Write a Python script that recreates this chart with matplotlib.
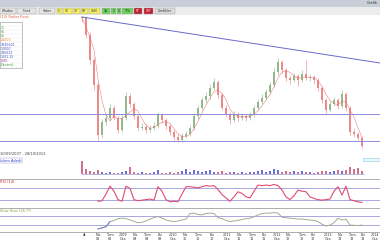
import numpy as np
import pandas as pd
import matplotlib
matplotlib.use("Agg")
import matplotlib.pyplot as plt
from matplotlib.patches import Rectangle

W, H = 380, 240

# price candles (weekly), arbitrary price units
closes = [132, 115, 90, 65, 15, 28, 32, 42, 32, 20, 32, 54, 46, 34, 22, 23, 20, 22, 24, 35,
          30, 24, 18, 13, 10, 14, 16, 22, 34, 42, 50, 54, 62, 68, 55, 42, 36, 30, 36, 32,
          34, 32, 35, 42, 48, 52, 58, 65, 78, 88, 80, 72, 70, 74, 70, 76, 72, 73, 70, 62,
          50, 40, 46, 50, 44, 56, 42, 18, 16, 12, 4]
highs = [134, 134, 118, 93, 68, 31, 36, 46, 45, 34, 35, 58, 57, 48, 36, 27, 26, 25, 28, 38,
         37, 32, 26, 20, 16, 17, 19, 25, 37, 45, 53, 58, 66, 72, 70, 57, 45, 38, 39, 38,
         37, 36, 38, 45, 51, 56, 61, 68, 82, 92, 90, 82, 75, 77, 76, 80, 90, 76, 75, 72,
         64, 52, 49, 53, 52, 60, 58, 44, 22, 18, 14]
lows = [128, 112, 86, 60, 10, 12, 25, 29, 30, 17, 18, 30, 43, 31, 19, 20, 17, 18, 20, 22,
        27, 21, 15, 10, 8, 8, 12, 14, 20, 31, 40, 47, 51, 60, 52, 40, 33, 26, 28, 29,
        30, 29, 30, 33, 40, 46, 50, 56, 63, 75, 77, 69, 66, 68, 64, 68, 70, 69, 66, 59,
        47, 37, 38, 44, 41, 42, 39, 15, 13, 9, 2]
first_open = 133

volumes = [13, 5, 3, 2, 4, 2, 1, 2, 1, 1, 2, 3, 7, 2, 1, 2, 1, 1, 2, 4, 1, 1, 2, 1, 2,
           3, 5, 2, 4, 3, 2, 3, 4, 2, 2, 3, 1, 2, 2, 1, 2, 1, 2, 2, 3, 4, 2, 3, 5, 4,
           2, 3, 2, 3, 2, 3, 2, 2, 1, 2, 3, 3, 2, 3, 4, 3, 4, 7, 5, 6, 3]

rsi = [np.nan] * 4 + [24, 26, 50, 78, 60, 30, 24, 78, 70, 30, 26, 28, 30, 32, 28, 76, 60, 30,
                      22, 24, 22, 50, 76, 76, 74, 72, 76, 80, 78, 80, 66, 48, 36, 24, 40, 58,
                      52, 40, 36, 60, 82, 80, 82, 80, 84, 80, 64, 40, 30, 44, 64, 60, 58, 40,
                      34, 30, 28, 30, 32, 60, 76, 46, 78, 30, 26, 22, 20]
stoch = [np.nan] * 4 + [13, 18, 23, 45, 50, 58, 60, 58, 52, 46, 40, 42, 48, 56, 62, 67, 60, 52,
                        48, 45, 48, 52, 56, 80, 82, 76, 74, 80, 82, 80, 62, 58, 50, 45, 48, 50,
                        54, 58, 60, 66, 74, 80, 82, 82, 84, 82, 64, 62, 60, 58, 56, 56, 54, 52,
                        50, 45, 34, 26, 30, 40, 60, 52, 56, 30, 29, 28, 30]

trend_x = [0, 74.5]
trend_y = [133, 87]
levels = [36, 9]

tick_pos = [0.75, 4, 7, 10.25, 13.25, 16.25, 19.5, 22.75, 25.75, 29, 32.5, 36.25, 39.25,
            42.5, 45.5, 48.75, 51.5, 55, 57.75, 61.5, 64.5, 67.5, 70.25, 73.25]
tick_labels = ["Ar", "Nis\n08", "Tem\n08", "2009\nOca", "Nis\n09", "Tem\n09", "Eki\n09",
               "2010\nOca", "Nis\n10", "Tem\n10", "Eki\n10", "2011\nOca", "Nis\n11",
               "Tem\n11", "Eki\n11", "2012\nOca", "Nis\n12", "Tem\n12", "Eki\n12",
               "2013\nOca", "Nis\n13", "Tem\n13", "Eki\n13", "2014\nOca"]

toolbar = [("Window", 0, 16, "#e4e4e4"), ("Trend", 17, 36, "#e4e4e4"), ("Haber", 39, 55, "#e4e4e4"),
           ("5'", 57, 62, "#f4ee60"), ("15'", 63, 72, "#f4ee60"), ("30'", 73, 80, "#f4ee60"),
           ("60'", 81, 88, "#f4ee60"), ("GUN", 89, 100, "#f4ee60"), ("1A", 102, 110, "#70d060"),
           ("3", 111, 116, "#70d060"), ("6", 117, 121, "#70d060"), ("1YIL", 122, 133, "#70d060"),
           ("5Y", 134, 142, "#c02030"), ("10Y", 144, 153, "#c02030"), ("Ozellikler", 155, 175, "#dcdcdc")]

table_rows = [("", "#606060"), ("11", "#40a040"), ("55", "#40a040"), ("05", "#40a040"),
              ("26000", "#f08030"), ("3345621", "#4050d0"), ("12000", "#4050d0"),
              ("345621", "#4050d0"), ("1201.15", "#4050d0"), ("0.80", "#a040a0"),
              ("Devamli", "#40a040")]

idx = np.arange(len(closes))
opens = [first_open] + closes[:-1]
ma = pd.Series(closes).rolling(4, min_periods=1).mean()

fig = plt.figure(figsize=(W / 100, H / 100), dpi=100)
fig.patch.set_facecolor("white")


def px_axes(x0, y0, x1, y1):
    return fig.add_axes([x0 / W, 1 - y1 / H, (x1 - x0) / W, (y1 - y0) / H])


xlim = (-20.5, 74.5)

# window chrome behind everything
chrome = px_axes(0, 0, 380, 240)
chrome.set_xlim(0, W)
chrome.set_ylim(H, 0)
chrome.axis("off")
chrome.add_patch(Rectangle((0, 0), W, 7, fc="#c9cfd8", ec="none"))
chrome.add_patch(Rectangle((0, 7), W, 8, fc="#ececec", ec="none"))
chrome.text(378, 3.5, "Grafik", fontsize=2.6, ha="right", va="center", color="#303030")

# main price panel
ax = px_axes(0, 15, 380, 150)
ax.set_xlim(*xlim)
ax.set_ylim(0, 135)
up_c, dn_c = "#93b88e", "#eb8a8a"
for i in idx:
    col = up_c if closes[i] >= opens[i] else dn_c
    ax.vlines(i, lows[i], highs[i], color=col, lw=0.45)
    lo, hi = sorted([opens[i], closes[i]])
    ax.bar(i, max(hi - lo, 0.8), bottom=lo, width=0.4, color=col, linewidth=0)
ax.plot(idx, ma, color="#e87070", lw=0.35)
ax.plot(trend_x, trend_y, color="#6a6ac8", lw=0.7)
for lv in levels:
    ax.axhline(lv, color="#8c8cd8", lw=0.7)
ax.axis("off")

# volume panel
axv = px_axes(0, 150, 380, 179)
axv.set_xlim(*xlim)
axv.set_ylim(-5, 24)
vcols = ["#7070d0" if closes[i] >= opens[i] else "#d07090" for i in idx]
axv.bar(idx, volumes, width=0.35, color=vcols, linewidth=0)
axv.axhline(0, xmin=20.5 / 95, xmax=(70.5 + 20.5) / 95, color="#8080d0", lw=0.4)
axv.set_xticks([])
axv.set_yticks([])
for s in axv.spines.values():
    s.set_visible(False)
axv.text(0.0, 0.93, "10/09/2007 - 28/10/2013", transform=axv.transAxes, fontsize=2.6,
         color="#404040", va="top")
axv.text(0.0, 0.7, "Islem Adedi", transform=axv.transAxes, fontsize=2.6, color="#3040c0",
         va="top", bbox=dict(boxstyle="square,pad=0.15", fc="white", ec="#9090d0", lw=0.3))
axv.add_patch(Rectangle((0.955, 0.62), 0.045, 0.12, transform=axv.transAxes,
                        fc="#e8f8fc", ec="#80d0e0", lw=0.4))

# RSI panel
axr = px_axes(0, 179, 380, 208)
axr.set_xlim(*xlim)
axr.set_ylim(0, 103.6)
for lv in (70, 30):
    axr.axhline(lv, color="#9a9ad8", lw=0.6)
axr.plot(idx, rsi, color="#e04c70", lw=0.8, zorder=5)
axr.set_xticks([])
axr.set_yticks([])
for k, s in axr.spines.items():
    s.set_visible(k == "top")
    s.set_color("#a0a0a0")
    s.set_linewidth(0.6)
axr.text(0.0, 0.95, "RSI (14)", transform=axr.transAxes, fontsize=2.6, color="#d03030", va="top")

# Stochastic panel
axs = px_axes(0, 208, 380, 232)
axs.set_xlim(*xlim)
axs.set_ylim(0, 104)
for lv in (70, 30):
    axs.axhline(lv, color="#9a9ad8", lw=0.6)
axs.plot(idx, stoch, color="#a4ac92", lw=0.7, zorder=5)
axs.plot(idx[:8], stoch[:8], color="#7080d0", lw=0.7, zorder=5)
axs.set_yticks([])
for k, s in axs.spines.items():
    s.set_visible(k in ("top", "bottom"))
    s.set_color("#a0a0a0")
    s.set_linewidth(0.6)
axs.set_xticks(tick_pos)
axs.set_xticklabels(tick_labels, fontsize=2.4, color="#303030", linespacing=0.9)
axs.tick_params(axis="x", length=0, pad=0.8)
axs.text(0.0, 0.95, "Slow Stoc (26,??)", transform=axs.transAxes, fontsize=2.6,
         color="#80a040", va="top")

# toolbar and left info table on top
top = fig.add_axes([0, 0, 1, 1], facecolor="none")
top.set_xlim(0, W)
top.set_ylim(H, 0)
top.axis("off")
for label, x0, x1, fc in toolbar:
    top.add_patch(Rectangle((x0, 8), x1 - x0, 6, fc=fc, ec="#a0a0a0", lw=0.3))
    top.text((x0 + x1) / 2, 11, label, fontsize=2.2, ha="center", va="center",
             color="white" if fc == "#c02030" else "#303030")
top.text(0, 16.5, "(13) Radar Pozit", fontsize=2.6, color="#e06040", va="center")
top.add_patch(Rectangle((0, 22), 22, 46, fc="white", ec="#909090", lw=0.4))
for r, (txt, col) in enumerate(table_rows):
    yy = 24 + r * 4.1
    top.plot([0, 22], [yy + 2, yy + 2], color="#e0e0e0", lw=0.2)
    top.text(1, yy, txt, fontsize=2.3, color=col, va="center")

fig.savefig("out.png", dpi=100)
